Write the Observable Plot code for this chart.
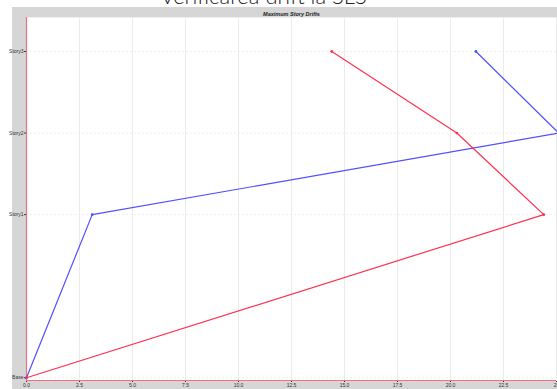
<!DOCTYPE html>
<html>
<head>
<meta charset="utf-8">
<script src="https://cdn.jsdelivr.net/npm/d3@7"></script>
<script src="https://cdn.jsdelivr.net/npm/@observablehq/plot@0.6"></script>
<style>
  html, body { margin: 0; padding: 0; background: #fff; }
  #wrap { position: relative; width: 557px; height: 389px; overflow: hidden; }
  #panel { position: absolute; left: 12px; top: 7px; right: 0; bottom: 0; background: #d6d6d6; }
  #title { position: absolute; left: -15px; width: 557px; top: -12px; height: 16px; line-height: 16px;
           text-align: center; font-family: Lato, "Open Sans", sans-serif; font-weight: 300;
           font-size: 22px; color: #222; white-space: nowrap; }
  #chart { position: absolute; left: 0; top: 0; }
</style>
</head>
<body>
<div id="wrap">
  <div id="panel"></div>
  <div id="title">Verificarea drift la SLS</div>
  <div id="chart"></div>
</div>
<script>
// Story levels (elevation, m) and their labels
const stories = ["Base", "Story1", "Story2", "Story3"];
const elevations = [0, 6, 9, 12];

// Maximum story drift per level (×1e-4) for the two load directions
const driftX = [0, 3.1, 25.1, 21.2];
const driftY = [0, 24.4, 20.3, 14.4];

// x tick labels
const xTicks = [0, 2.5, 5, 7.5, 10, 12.5, 15, 17.5, 20, 22.5, 25];

const rows = [];
stories.forEach((s, i) => {
  rows.push({series: "X", story: s, elev: elevations[i], drift: driftX[i]});
});
stories.forEach((s, i) => {
  rows.push({series: "Y", story: s, elev: elevations[i], drift: driftY[i]});
});

const chart = Plot.plot({
  width: 557,
  height: 389,
  marginLeft: 26,
  marginRight: 1,
  marginTop: 17,
  marginBottom: 9,
  style: {background: "transparent", fontFamily: "Arial, sans-serif", fontSize: "5px", color: "#333"},
  x: {domain: [0, 25], ticks: xTicks, tickFormat: d => d === 25 ? "25" : d.toFixed(1), tickSize: 2, tickPadding: 1, label: null},
  y: {domain: [-0.1, 13.25], ticks: elevations, tickFormat: d => stories[elevations.indexOf(d)], tickSize: 2, tickPadding: 1, label: null},
  color: {domain: ["X", "Y"], range: ["#5050ff", "#ff3050"]},
  marks: [
    Plot.frame({fill: "white", stroke: "#eee"}),
    Plot.gridX(xTicks, {stroke: "#ebebeb", strokeOpacity: 1}),
    Plot.gridY(elevations, {stroke: "#efefef", strokeOpacity: 1, strokeDasharray: "2,2"}),
    Plot.ruleX([0], {stroke: "#f07080", strokeWidth: 1.2}),
    Plot.ruleY([-0.1], {stroke: "#f07080", strokeWidth: 1.2}),
    Plot.line(rows, {x: "drift", y: "elev", z: "series", stroke: "series", strokeWidth: 1.2}),
    Plot.dot(rows, {x: "drift", y: "elev", fill: "series", r: 1.4}),
    Plot.text(["Maximum Story Drifts"], {frameAnchor: "top", dy: -5.5, fontWeight: "bold", fontStyle: "italic", fontSize: 5.5, fill: "#222"})
  ]
});
document.getElementById("chart").appendChild(chart);
</script>
</body>
</html>
